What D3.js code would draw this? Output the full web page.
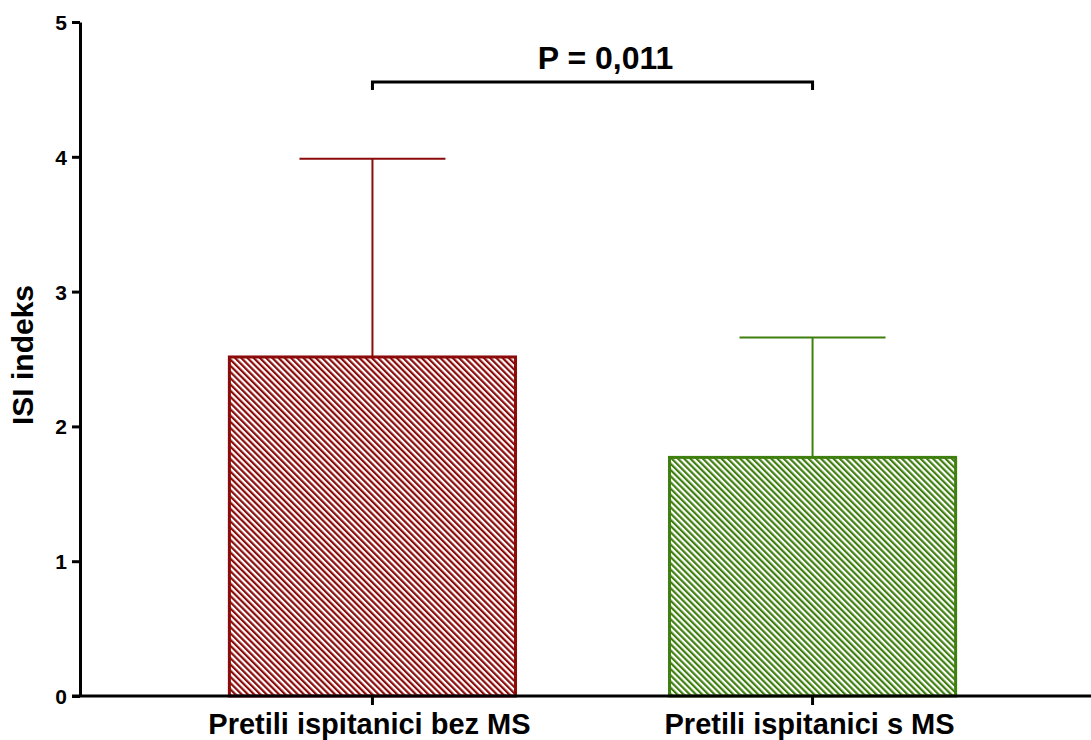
<!DOCTYPE html>
<html>
<head>
<meta charset="utf-8">
<script src="https://cdn.jsdelivr.net/npm/d3@7"></script>
<style>
  html, body { margin: 0; padding: 0; background: #fff; }
  svg { display: block; font-family: "Liberation Sans", Arial, sans-serif; }
</style>
</head>
<body>
<svg id="chart" width="1091" height="740"></svg>
<script>
const categories = ["Pretili ispitanici bez MS", "Pretili ispitanici s MS"];
const means = [2.515, 1.77];
const errorTops = [3.985, 2.66];
const colors = ["#8b0a0a", "#3f7f0f"];
const yTicks = [0, 1, 2, 3, 4, 5];
const yTitle = "ISI indeks";
const pLabel = "P = 0,011";

const svg = d3.select("#chart");
const x0 = 80, yBottom = 696, yTop = 22;

const y = d3.scaleLinear().domain([0, 5]).range([yBottom, yTop]);
const x = d3.scaleBand().domain(categories)
  .range([x0, 1105]).paddingInner(0.343).paddingOuter(0.336);

// Hatch patterns (lines running top-left to bottom-right)
const defs = svg.append("defs");
const hs = 4.4;
colors.forEach((c, i) => {
  const p = defs.append("pattern")
    .attr("id", "hatch" + i)
    .attr("patternUnits", "userSpaceOnUse")
    .attr("width", hs).attr("height", hs)
    .attr("patternTransform", "rotate(-45)");
  p.append("rect").attr("width", hs).attr("height", hs).attr("fill", "#fff");
  p.append("rect").attr("x", 0).attr("y", 0).attr("width", 2.2).attr("height", hs).attr("fill", c);
});

// Error bars (upper only)
const capHalf = 73;
categories.forEach((cat, i) => {
  const cx = x(cat) + x.bandwidth() / 2;
  svg.append("line")
    .attr("x1", cx).attr("x2", cx)
    .attr("y1", y(means[i])).attr("y2", y(errorTops[i]))
    .attr("stroke", colors[i]).attr("stroke-width", 2);
  svg.append("line")
    .attr("x1", cx - capHalf).attr("x2", cx + capHalf)
    .attr("y1", y(errorTops[i])).attr("y2", y(errorTops[i]))
    .attr("stroke", colors[i]).attr("stroke-width", 2);
});

// Bars
svg.selectAll("rect.bar").data(categories).enter().append("rect")
  .attr("class", "bar")
  .attr("x", d => x(d) + 1.5)
  .attr("width", x.bandwidth() - 3)
  .attr("y", (d, i) => y(means[i]))
  .attr("height", (d, i) => yBottom - y(means[i]))
  .attr("fill", (d, i) => "url(#hatch" + i + ")")
  .attr("stroke", (d, i) => colors[i])
  .attr("stroke-width", 3);

// Y axis
const yAxis = svg.append("g")
  .attr("transform", `translate(${x0},0)`)
  .call(d3.axisLeft(y).tickValues(yTicks).tickFormat(d3.format("d")).tickSize(8).tickSizeOuter(0));
yAxis.select(".domain").attr("stroke", "#000").attr("stroke-width", 3);
yAxis.selectAll(".tick line").attr("stroke", "#000").attr("stroke-width", 3);
yAxis.selectAll(".tick text")
  .attr("font-size", 21).attr("font-weight", "bold").attr("fill", "#000")
  .attr("font-family", "Liberation Sans, Arial, sans-serif")
  .attr("x", -13).attr("dy", "0.36em");

// X axis
const xAxis = svg.append("g")
  .attr("transform", `translate(0,${yBottom})`)
  .call(d3.axisBottom(x).tickSize(9).tickSizeOuter(0));
xAxis.select(".domain").remove();
svg.append("line")
  .attr("x1", x0 - 8).attr("x2", 1091)
  .attr("y1", yBottom).attr("y2", yBottom)
  .attr("stroke", "#000").attr("stroke-width", 3);
xAxis.selectAll(".tick line").attr("stroke", "#000").attr("stroke-width", 3);
xAxis.selectAll(".tick text")
  .attr("font-size", 29).attr("font-weight", "bold").attr("fill", "#000")
  .attr("font-family", "Liberation Sans, Arial, sans-serif")
  .attr("x", -3).attr("y", 38).attr("dy", 0);

// Y title
svg.append("text")
  .attr("transform", `translate(33,355) rotate(-90)`)
  .attr("text-anchor", "middle")
  .attr("font-size", 30).attr("font-weight", "bold").attr("fill", "#000")
  .text(yTitle);

// Significance bracket
const c1 = x(categories[0]) + x.bandwidth() / 2;
const c2 = x(categories[1]) + x.bandwidth() / 2;
const by = 82;
svg.append("path")
  .attr("d", `M${c1},${by + 8} V${by} H${c2} V${by + 8}`)
  .attr("fill", "none").attr("stroke", "#000").attr("stroke-width", 3);
svg.append("text")
  .attr("x", (c1 + c2) / 2 + 13).attr("y", 69)
  .attr("text-anchor", "middle")
  .attr("font-size", 32).attr("font-weight", "bold").attr("fill", "#000")
  .text(pLabel);
</script>
</body>
</html>
